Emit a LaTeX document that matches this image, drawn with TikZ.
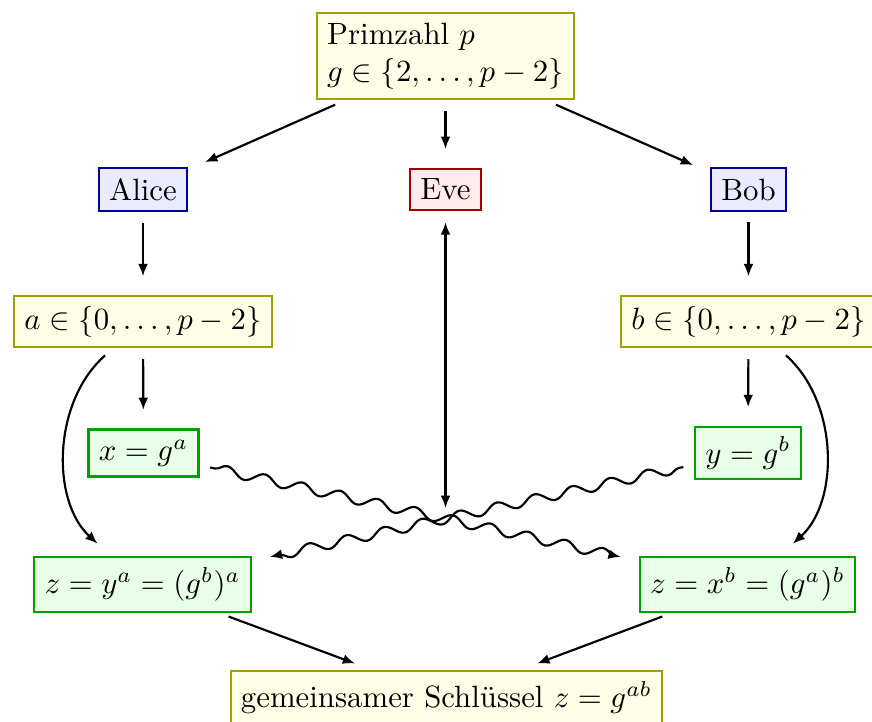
\documentclass[tikz,border=0pt]{standalone}
\usepackage{fontspec}
\usetikzlibrary{arrows.meta,decorations.pathmorphing}
\definecolor{yborder}{HTML}{A0A000}
\definecolor{yfill}{HTML}{FFFFE8}
\definecolor{bborder}{HTML}{0000A0}
\definecolor{bfill}{HTML}{EBEBFF}
\definecolor{rborder}{HTML}{A00000}
\definecolor{rfill}{HTML}{FFEBEB}
\definecolor{gborder}{HTML}{00A000}
\definecolor{gfill}{HTML}{E8FFE8}
\begin{document}
\begin{tikzpicture}[x=0.3247pt,y=-0.3247pt,
  >={Latex[length=4pt,width=3.2pt]},
  box/.style={draw, line width=0.7pt, rectangle, inner sep=0.3333em},
  ybox/.style={box, draw=yborder, fill=yfill},
  bbox/.style={box, draw=bborder, fill=bfill},
  rbox/.style={box, draw=rborder, fill=rfill},
  gbox/.style={box, draw=gborder, fill=gfill},
  arr/.style={line width=0.7pt, ->, shorten <=3.5pt, shorten >=6pt},
  wave/.style={arr, decorate, decoration={snake, segment length=12.5pt, amplitude=1.6pt, pre length=5pt, post length=7pt}}
]
\useasboundingbox (0,0) rectangle (872,722);
\clip (0,0) rectangle (872,722);
\node[ybox, align=left] (top) at (445.5,56) {Primzahl $p$\\ $g\in\{2,\ldots,p-2\}$};
\node[bbox] (alice) at (143,189.5) {Alice};
\node[rbox] (eve) at (445.5,189.5) {Eve};
\node[bbox] (bob) at (748.5,189.5) {Bob};
\node[ybox] (a) at (143,321.5) {$a\in\{0,\ldots,p-2\}$};
\node[ybox] (b) at (748.5,321.5) {$b\in\{0,\ldots,p-2\}$};
\node[gbox] (x) at (143.5,453) {$x=g^a$};
\node[gbox] (y) at (748,453) {$y=g^b$};
\node[gbox] (zl) at (142.5,584.5) {$z=y^a=(g^b)^a$};
\node[gbox] (zr) at (747.5,584.5) {$z=x^b=(g^a)^b$};
\node[ybox, anchor=north] (key) at (446.5,670) {gemeinsamer Schlüssel $z=g^{ab}$};
\coordinate (cross) at (445.5,508);

\draw[arr] (top) -- (alice);
\draw[arr] (top) -- (eve);
\draw[arr] (top) -- (bob);
\draw[arr] (alice) -- (a);
\draw[arr] (bob) -- (b);
\draw[arr] (a) -- (x);
\draw[arr] (b) -- (y);
\draw[arr] (a) to[bend right=48] (zl);
\draw[arr] (b) to[bend left=48] (zr);
\draw[wave] (x) -- (zr);
\draw[wave] (y) -- (zl);
\draw[arr, <->, shorten >=0pt] (eve) -- (cross);
\draw[arr] (zl) -- (key);
\draw[arr] (zr) -- (key);
\end{tikzpicture}
\end{document}
